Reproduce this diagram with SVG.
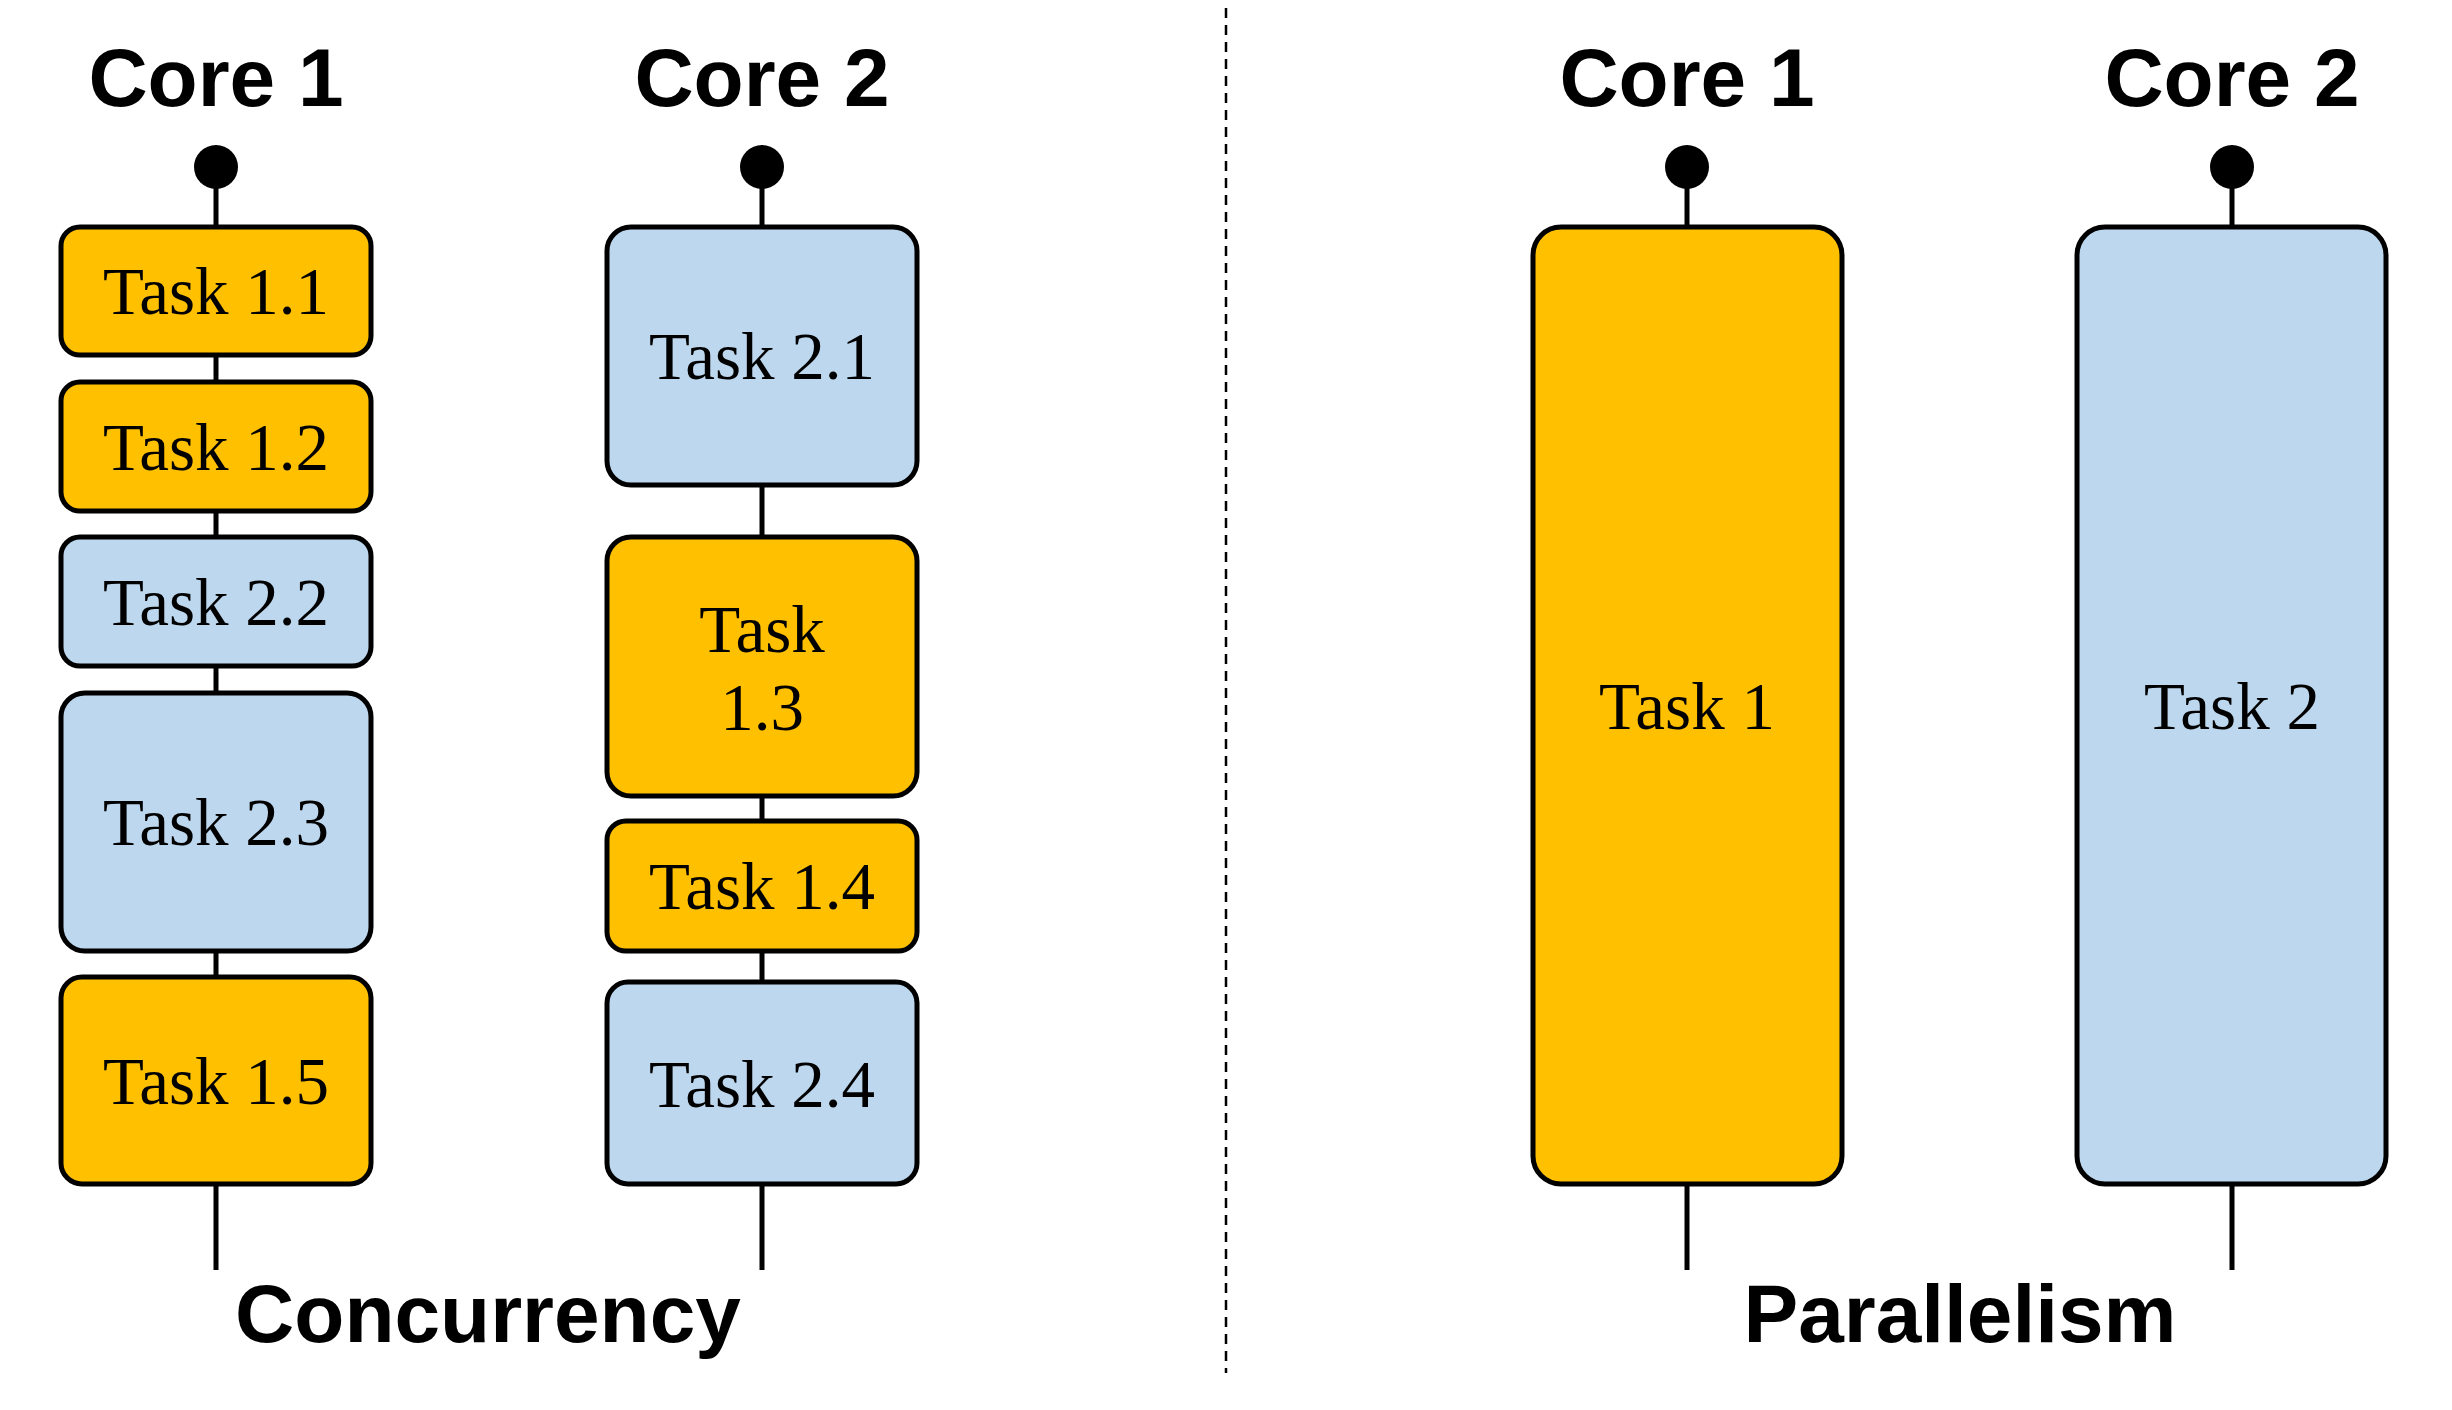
<svg xmlns="http://www.w3.org/2000/svg" width="2452" height="1410" viewBox="0 0 2452 1410">
<style>
.title{font-family:"Liberation Sans",Arial,sans-serif;font-weight:bold;font-size:82px;text-anchor:middle;fill:#000}
.task{font-family:"Liberation Serif","Times New Roman",serif;font-size:67px;text-anchor:middle;fill:#000}
.y{fill:#FFC000;stroke:#000;stroke-width:5}
.b{fill:#BDD7EE;stroke:#000;stroke-width:5}
.ln{stroke:#000;stroke-width:5;fill:none}
</style>
<rect width="2452" height="1410" fill="#fff"/>
<g id="connectors">
<line class="ln" x1="216" y1="167" x2="216" y2="1270"/>
<line class="ln" x1="762" y1="167" x2="762" y2="1270"/>
<line class="ln" x1="1687" y1="167" x2="1687" y2="1270"/>
<line class="ln" x1="2232" y1="167" x2="2232" y2="1270"/>
<circle cx="216" cy="167" r="22"/>
<circle cx="762" cy="167" r="22"/>
<circle cx="1687" cy="167" r="22"/>
<circle cx="2232" cy="167" r="22"/>
</g>
<line id="divider" x1="1226" y1="8" x2="1226" y2="1373" stroke="#000" stroke-width="2.5" stroke-dasharray="10,7"/>
<g id="titles">
<text class="title" x="216" y="106">Core 1</text>
<text class="title" x="762" y="106">Core 2</text>
<text class="title" x="1687" y="106">Core 1</text>
<text class="title" x="2232" y="106">Core 2</text>
<text class="title" x="488" y="1342">Concurrency</text>
<text class="title" x="1960" y="1342">Parallelism</text>
</g>
<g id="t11"><rect class="y" x="61" y="227" width="310" height="128" rx="19"/><text class="task" x="216" y="314">Task 1.1</text></g>
<g id="t12"><rect class="y" x="61" y="382" width="310" height="129" rx="19"/><text class="task" x="216" y="470">Task 1.2</text></g>
<g id="t22"><rect class="b" x="61" y="537" width="310" height="129" rx="19"/><text class="task" x="216" y="625">Task 2.2</text></g>
<g id="t23"><rect class="b" x="61" y="693" width="310" height="258" rx="24"/><text class="task" x="216" y="845">Task 2.3</text></g>
<g id="t15"><rect class="y" x="61" y="977" width="310" height="207" rx="21"/><text class="task" x="216" y="1104">Task 1.5</text></g>
<g id="t21"><rect class="b" x="607" y="227" width="310" height="258" rx="24"/><text class="task" x="762" y="379">Task 2.1</text></g>
<g id="t13"><rect class="y" x="607" y="537" width="310" height="259" rx="24"/><text class="task" x="762" y="652">Task</text><text class="task" x="762" y="730">1.3</text></g>
<g id="t14"><rect class="y" x="607" y="821" width="310" height="130" rx="19"/><text class="task" x="762" y="909">Task 1.4</text></g>
<g id="t24"><rect class="b" x="607" y="982" width="310" height="202" rx="21"/><text class="task" x="762" y="1107">Task 2.4</text></g>
<g id="task1"><rect class="y" x="1533" y="227" width="309" height="957" rx="28"/><text class="task" x="1687" y="729">Task 1</text></g>
<g id="task2"><rect class="b" x="2077" y="227" width="309" height="957" rx="28"/><text class="task" x="2232" y="729">Task 2</text></g>
</svg>
